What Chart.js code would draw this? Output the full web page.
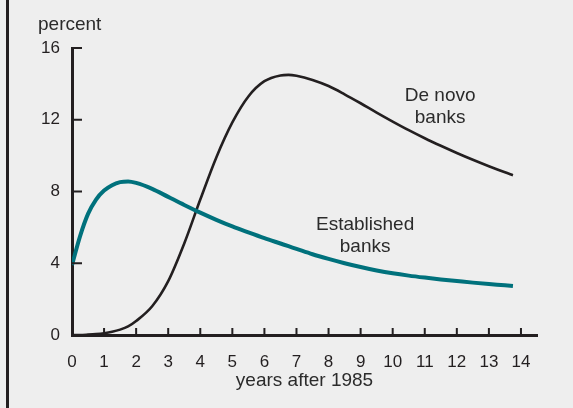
<!DOCTYPE html>
<html>
<head>
<meta charset="utf-8">
<script src="https://cdn.jsdelivr.net/npm/chart.js@4/dist/chart.umd.min.js"></script>
<style>
  html, body { margin: 0; padding: 0; background: #eeeeee; }
  canvas { display: block; }
</style>
</head>
<body>
<canvas id="chart" width="573" height="408"></canvas>
<script>
// years after 1985
const years = [0, 0.25, 0.5, 0.75, 1, 1.25, 1.5, 1.75, 2, 2.5, 3, 3.5, 4, 4.5, 5, 5.5, 6, 6.5, 6.75, 7, 7.5, 8, 8.5, 9, 9.5, 10, 10.5, 11, 11.5, 12, 12.5, 13, 13.5, 13.75]

// percent
const deNovo = [0, 0, 0.02, 0.05, 0.1, 0.18, 0.3, 0.48, 0.78, 1.6, 3.0, 5.1, 7.55, 9.9, 11.85, 13.3, 14.15, 14.47, 14.5, 14.45, 14.22, 13.88, 13.42, 12.92, 12.4, 11.9, 11.42, 10.97, 10.55, 10.15, 9.77, 9.41, 9.07, 8.91]
const established = [3.9, 5.5, 6.75, 7.55, 8.05, 8.35, 8.52, 8.56, 8.48, 8.15, 7.7, 7.25, 6.82, 6.42, 6.05, 5.72, 5.4, 5.1, 4.95, 4.8, 4.5, 4.24, 4.0, 3.79, 3.6, 3.44, 3.31, 3.2, 3.1, 3.01, 2.92, 2.84, 2.77, 2.73]

const xTicks = [0, 1, 2, 3, 4, 5, 6, 7, 8, 9, 10, 11, 12, 13, 14]
const yTicks = [0, 4, 8, 12, 16]

const ink = '#231f20'
const teal = '#00717c'
const font = "'Liberation Sans', Arial, sans-serif"

const toPoints = (xs, ys) => xs.map((x, i) => ({ x: x, y: ys[i] }))

// background, left rule, inward tick marks and the text notes
const decorations = {
    id: 'decorations',
    beforeDraw(chart) {
        const c = chart.ctx
        c.save()
        c.fillStyle = '#eeeeee'
        c.fillRect(0, 0, chart.width, chart.height)
        c.fillStyle = ink
        c.fillRect(6, 0, 3, chart.height)
        c.restore()
    },
    afterDatasetsDraw(chart) {
        const c = chart.ctx
        const x = chart.scales.x
        const y = chart.scales.y
        const area = chart.chartArea
        c.save()
        c.strokeStyle = ink
        c.lineWidth = 2
        c.beginPath()
        xTicks.slice(1).forEach(v => {
            const px = x.getPixelForValue(v)
            c.moveTo(px, area.bottom)
            c.lineTo(px, area.bottom - 7)
        })
        yTicks.slice(1).forEach(v => {
            const py = y.getPixelForValue(v)
            c.moveTo(area.left, py)
            c.lineTo(area.left + 10, py)
        })
        c.stroke()

        c.fillStyle = '#2b2b2b'
        c.font = '19px ' + font
        c.textBaseline = 'middle'
        c.textAlign = 'left'
        c.fillText('percent', 38, 25)

        c.textAlign = 'center'
        let px = x.getPixelForValue(11.48), py = y.getPixelForValue(13.32)
        c.fillText('De novo', px, py)
        c.fillText('banks', px, py + 22)
        px = x.getPixelForValue(9.14); py = y.getPixelForValue(6.17)
        c.fillText('Established', px, py)
        c.fillText('banks', px, py + 22)
        c.restore()
    }
}

new Chart(document.getElementById('chart'), {
    type: 'line',
    data: {
        datasets: [
            {
                label: 'Established banks',
                data: toPoints(years, established),
                borderColor: teal,
                borderWidth: 4,
                pointRadius: 0,
                cubicInterpolationMode: 'monotone',
                borderCapStyle: 'butt'
            },
            {
                label: 'De novo banks',
                data: toPoints(years, deNovo),
                borderColor: ink,
                borderWidth: 2.6,
                pointRadius: 0,
                cubicInterpolationMode: 'monotone',
                borderCapStyle: 'butt'
            }
        ]
    },
    options: {
        responsive: false,
        animation: false,
        devicePixelRatio: 1,
        layout: {
            padding: { top: 48, left: 0, right: 36, bottom: 16 }
        },
        plugins: {
            legend: { display: false },
            tooltip: { enabled: false }
        },
        scales: {
            x: {
                type: 'linear',
                min: 0,
                max: 14.5,
                grid: { display: false, drawTicks: false },
                border: { color: ink, width: 3 },
                afterBuildTicks: scale => { scale.ticks = xTicks.map(v => ({ value: v })) },
                afterFit: scale => { scale.height = 57 },
                ticks: {
                    color: ink,
                    padding: 17,
                    maxRotation: 0,
                    font: { family: font, size: 17 }
                },
                title: {
                    display: true,
                    text: 'years after 1985',
                    color: '#2b2b2b',
                    padding: { top: 0, bottom: 0 },
                    font: { family: font, size: 19 }
                }
            },
            y: {
                min: 0,
                max: 16,
                grid: { display: false, drawTicks: false },
                border: { color: ink, width: 3 },
                afterBuildTicks: scale => { scale.ticks = yTicks.map(v => ({ value: v })) },
                afterFit: scale => { scale.width = 72 },
                ticks: {
                    color: ink,
                    padding: 12,
                    font: { family: font, size: 17 }
                }
            }
        }
    },
    plugins: [decorations]
});
</script>
</body>
</html>
